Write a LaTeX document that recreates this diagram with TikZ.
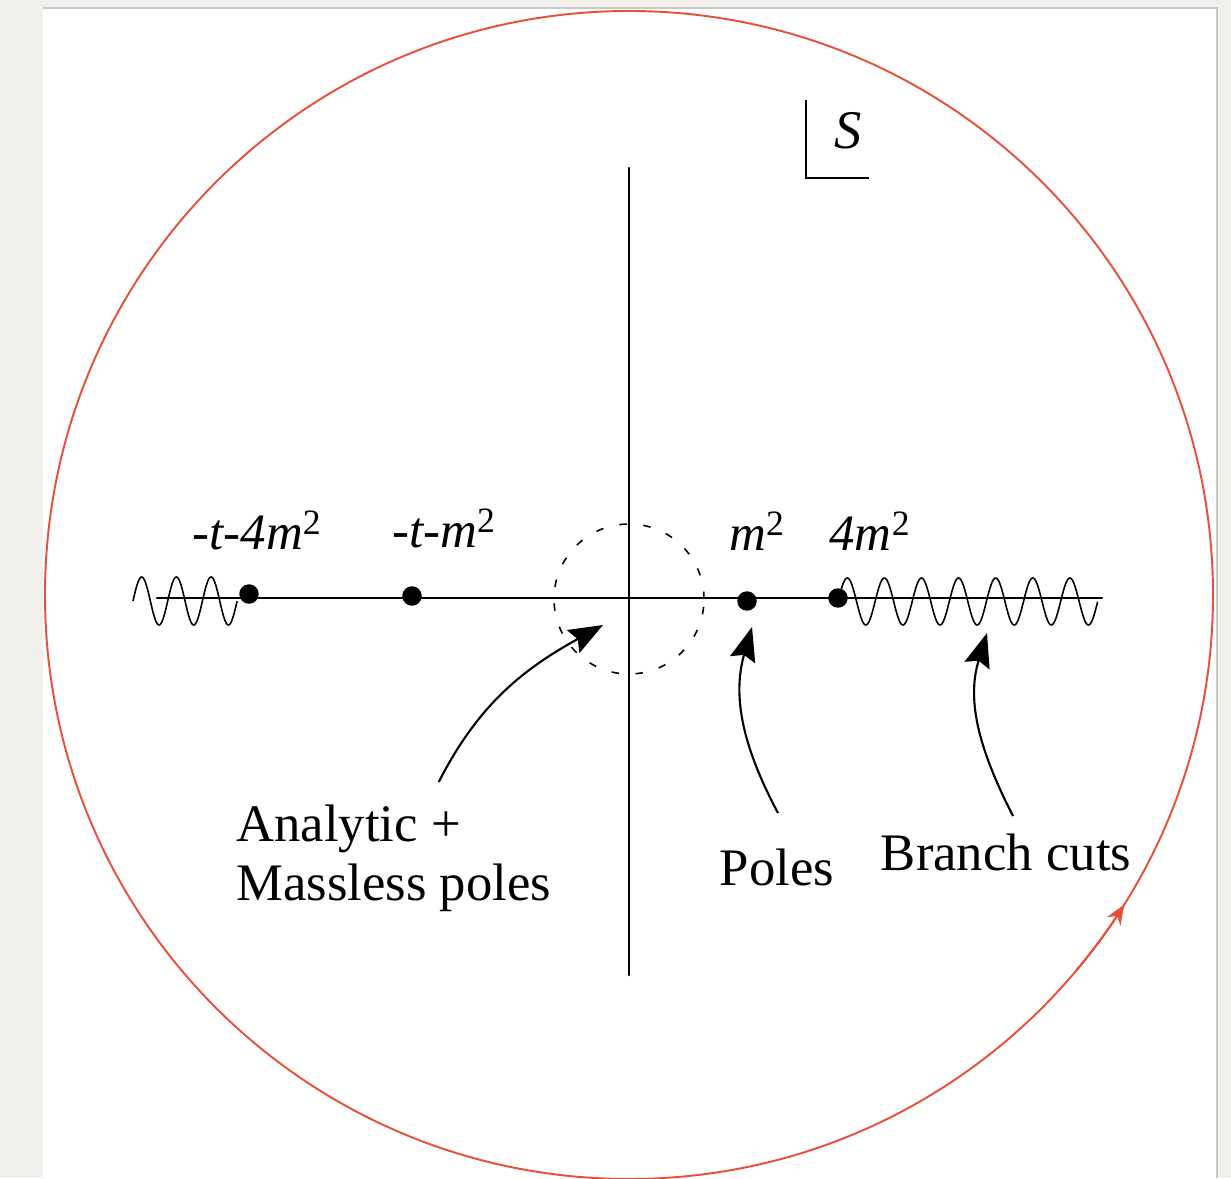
\documentclass[tikz,border=0pt]{standalone}
\usepackage{fontspec}
\setmainfont{Liberation Serif}
\usetikzlibrary{arrows.meta, calc}
\definecolor{PaperGray}{HTML}{F1F0ED}
\definecolor{EdgeGray}{HTML}{C9C9C9}
\definecolor{ContourRed}{HTML}{E8503A}
\tikzset{
  axisline/.style={line width=1.3pt, line cap=round},
  cutwave/.style={line width=0.9pt},
  polept/.style={circle, fill=black, inner sep=0pt, minimum size=0.39cm},
  ptlabel/.style={anchor=base, inner sep=0pt, font=\fontsize{29}{34}\selectfont\itshape},
  note/.style={inner sep=0pt, font=\fontsize{30}{33.5}\selectfont},
  pointer/.style={-{Stealth[length=0.68cm, width=0.52cm, inset=0.1cm]}, line width=1.2pt},
  contour/.style={draw=ContourRed, line width=1.1pt},
  holeline/.style={line width=0.9pt, dash pattern=on 0.15cm off 0.33cm}
}

\begin{document}
\begin{tikzpicture}[x=0.02cm, y=0.02cm]
\useasboundingbox (0,0) rectangle (1231,1178);
% page and panel
\fill[PaperGray] (0,0) rectangle (1231,1178);
\fill[white] (43,0) rectangle (1217,1170);
\draw[EdgeGray, line width=1.2pt] (43,1170) -- (1217,1170) -- (1217,0);
% contour at infinity
\draw[contour] (629,583) circle[radius=584];
\draw[contour, -{Stealth[length=0.4cm, width=0.32cm]}] (629,583) ++(-40:584) arc[start angle=-40, end angle=-32, radius=584];
% axes
\draw[axisline] (157,580) -- (1102,580);
\draw[axisline] (629,1010) -- (629,203);
\draw[axisline, line cap=butt] (806,1078) |- (869,1000);
\node[inner sep=0pt, font=\fontsize{31}{36}\selectfont\itshape] (plane) at (848,1047) {S};
% small circle round the origin
\draw[holeline] (629,579) circle[radius=75];
% cuts
\draw[cutwave] plot[domain=0:3, samples=150, smooth] ({133+34.7*\x}, {577+24*sin(360*\x)});
\draw[cutwave] plot[domain=0:7, samples=300, smooth] ({838+37.1*\x}, {576.5+23.5*sin(360*\x)});
% poles and thresholds
\node[polept] (tfour) at (249,584) {};
\node[polept] (tone) at (412,582) {};
\node[polept] (mone) at (747,577) {};
\node[polept] (mfour) at (838,580) {};
\node[ptlabel] (tfourlbl) at (257,628) {-t-4m\textsuperscript{\upshape 2}};
\node[ptlabel] (tonelbl) at (444,630) {-t-m\textsuperscript{\upshape 2}};
\node[ptlabel] (monelbl) at (757,627) {m\textsuperscript{\upshape 2}};
\node[ptlabel] (mfourlbl) at (870,627) {4m\textsuperscript{\upshape 2}};
% notes
\node[note, align=left, anchor=north west] (analytic) at (236,373) {Analytic +\\Massless poles};
\node[note, anchor=base] (poles) at (777,293) {Poles};
\node[note, anchor=base] (branch) at (1006,308) {Branch cuts};
\coordinate (holetip) at (603,553);
\coordinate (poletip) at (752,551);
\coordinate (cuttip) at (987,545);
\draw[pointer] ($(analytic.north)+(45,23)$) to[out=63, in=209] (holetip);
\draw[pointer] ($(poles.north)+(1,35)$) to[out=118, in=254] (poletip);
\draw[pointer] ($(branch.north)+(7,17)$) to[out=117, in=253] (cuttip);
\end{tikzpicture}
\end{document}
